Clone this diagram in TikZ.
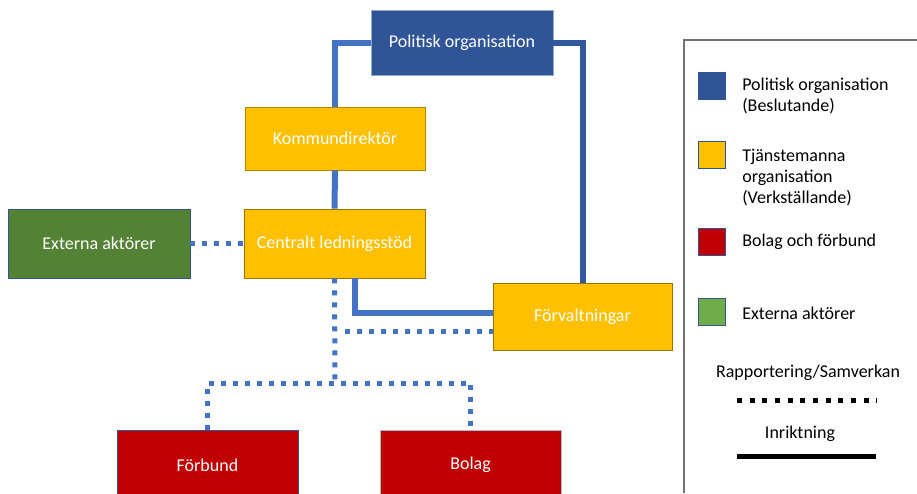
\documentclass[tikz,border=0pt]{standalone}
\usepackage{fontspec}
\setmainfont{Carlito}
\usetikzlibrary{calc}

\definecolor{polblue}{HTML}{2F5597}
\definecolor{linkblue}{HTML}{4472C4}
\definecolor{tjorange}{HTML}{FFC000}
\definecolor{bolred}{HTML}{C00000}
\definecolor{extgreen}{HTML}{548235}
\definecolor{leggreen}{HTML}{70AD47}

\tikzset{
  orgbox/.style={draw=#1, line width=0.6pt, text=white, font=\fontsize{13.5}{16}\selectfont,
    minimum width=135pt, minimum height=50pt, inner sep=0pt},
  inr/.style={draw=linkblue, line width=4.5pt},
  rap/.style={draw=linkblue, line width=3.75pt, dash pattern=on 3.75pt off 5.25pt},
  legsq/.style={fill=#1, draw=polblue, line width=0.5pt, minimum size=20pt, inner sep=0pt},
  legtxt/.style={anchor=west, align=left, inner sep=0pt, font=\fontsize{13.5}{15.75}\selectfont}
}

\begin{document}
\begin{tikzpicture}[x=0.75pt, y=-0.75pt]
    \useasboundingbox (0,0) rectangle (917,493);
    \clip (0,0) rectangle (917,493);

    \node[orgbox=polblue!50!white, fill=polblue, minimum width=136.5pt, minimum height=48.75pt] (pol) at (462,43) {Politisk organisation};
    \node[orgbox=tjorange!70!black, fill=tjorange, minimum width=135pt, minimum height=47.25pt] (kom) at (335,138.5) {Kommundirektör};
    \node[orgbox=tjorange!60!black, fill=tjorange, minimum width=135.75pt, minimum height=51.75pt] (cls) at (334.5,243.5) {Centralt ledningsstöd};
    \node[orgbox=polblue, fill=extgreen, minimum width=136.5pt, minimum height=51.75pt] (ext) at (99,243.5) {Externa aktörer};
    \node[orgbox=tjorange!60!black, fill=tjorange, minimum width=134.25pt, minimum height=50.25pt] (forv) at (582.5,316.5) {Förvaltningar};
    \node[orgbox=polblue, fill=bolred, minimum width=135.75pt, minimum height=52.5pt] (forb) at (207.5,465) {Förbund};
    \node[orgbox=polblue!40!white, fill=bolred, minimum width=135.75pt, minimum height=52.5pt] (bol) at (470.5,465) {Bolag};

    % inriktning
    \coordinate (cr) at ($(cls.south)+(20.5,0)$);
    \coordinate (fv) at ($(forv.west)+(0,-3.5)$);
    \draw[inr] (pol.west) -| (kom.north);
    \draw[inr, draw=polblue!85!linkblue] (pol.east) -| (forv.north);
    \draw[inr] (kom.south) -- (cls.north);
    \draw[inr] (cr) |- (fv);

    % rapportering
    \coordinate (mid) at (335,383);
    \coordinate (fr) at ($(forv.west)+(0,14.5)$);
    \draw[rap] (ext.east) -- (cls.west);
    \draw[rap] (cls.south) -- (mid);
    \draw[rap] (forb.north) -- (forb.north |- mid) -- (bol.north |- mid) -- (bol.north);
    \draw[rap] (345,0 |- fr) -- (fr);

    % legend
    \draw[black!55, line width=1pt] (684,493) -- (684,40) -- (920,40);
    \node[legsq=polblue] (lpol) at (711.5,85.5) {};
    \node[legsq=tjorange] (ltj) at (711.5,155) {};
    \node[legsq=bolred] (lbol) at (711.5,241.5) {};
    \node[legsq=leggreen] (lext) at (711.5,311.5) {};
    \node[legtxt] (tpol) at (742,96) {Politisk organisation\\(Beslutande)};
    \node[legtxt] (ttj) at (742,177.5) {Tjänstemanna\\organisation\\(Verkställande)};
    \node[legtxt] (tbol) at (742,242) {Bolag och förbund};
    \node[legtxt] (text) at (742,313) {Externa aktörer};
    \node[font=\fontsize{13.5}{16}\selectfont, inner sep=0pt] (trap) at (808,373) {Rapportering/Samverkan};
    \node[font=\fontsize{13.5}{16}\selectfont, inner sep=0pt] (tinr) at (800,434) {Inriktning};
    \coordinate (rs) at (737,400);
    \coordinate (re) at (877,400);
    \coordinate (is) at (737,456);
    \coordinate (ie) at (876,456);
    \draw[black, line width=3.75pt, dash pattern=on 3.75pt off 5.75pt] (rs) -- (re);
    \draw[black, line width=3.75pt] (is) -- (ie);
\end{tikzpicture}
\end{document}
